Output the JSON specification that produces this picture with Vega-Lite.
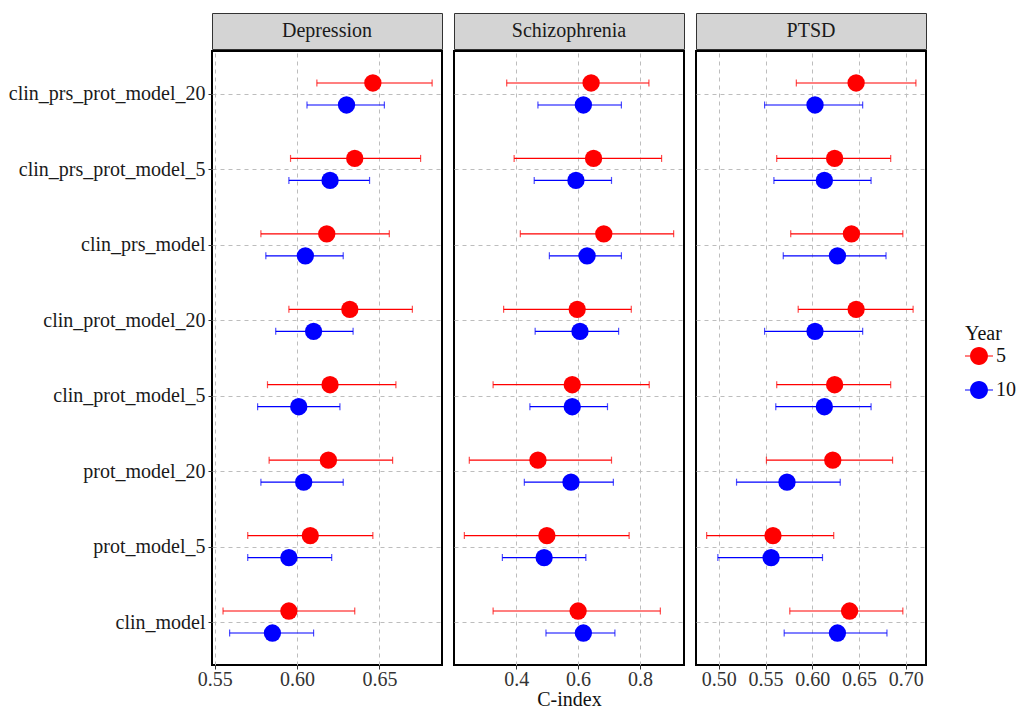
{
  "$schema": "https://vega.github.io/schema/vega-lite/v6.json",
  "padding": {"left": 7, "top": 12, "right": 5, "bottom": 0},
  "background": "white",
  "config": {
    "font": "Liberation Serif",
    "view": {"stroke": null},
    "axis": {"gridColor": "#BDBDBD", "gridDash": [4, 4], "gridWidth": 1, "domain": false, "tickColor": "#333333", "tickSize": 4, "tickWidth": 1, "labelFont": "Liberation Serif", "labelFontSize": 20, "labelColor": "#333333", "labelPadding": 3, "labelLimit": 0, "titleFont": "Liberation Serif", "titleFontSize": 20, "titleFontWeight": "normal", "titleColor": "#111111"},
    "legend": {"orient": "none", "legendX": 753, "legendY": 311, "titleFont": "Liberation Serif", "titleFontSize": 20, "titleFontWeight": "normal", "titleColor": "#111111", "titlePadding": -2, "labelFont": "Liberation Serif", "labelFontSize": 20, "labelColor": "#111111", "symbolType": "M-1,-0.03L1,-0.03L1,0.03L-1,0.03Z M-0.64,0A0.64,0.64 0 1,1 0.64,0A0.64,0.64 0 1,1 -0.64,0Z", "symbolSize": 784, "symbolStrokeWidth": 0, "symbolOpacity": 1, "rowPadding": 10, "labelOffset": 3}
  },
  "datasets": {
    "panels": [{"Disease": "Depression"}, {"Disease": "Schizophrenia"}, {"Disease": "PTSD"}],
    "d": [
      {"Disease": "Depression", "Model": "clin_prs_prot_model_20", "Year": "5", "Cindex": 0.646, "Lower": 0.612, "Upper": 0.682},
      {"Disease": "Depression", "Model": "clin_prs_prot_model_20", "Year": "10", "Cindex": 0.630, "Lower": 0.606, "Upper": 0.653},
      {"Disease": "Depression", "Model": "clin_prs_prot_model_5", "Year": "5", "Cindex": 0.635, "Lower": 0.596, "Upper": 0.675},
      {"Disease": "Depression", "Model": "clin_prs_prot_model_5", "Year": "10", "Cindex": 0.620, "Lower": 0.595, "Upper": 0.644},
      {"Disease": "Depression", "Model": "clin_prs_model", "Year": "5", "Cindex": 0.618, "Lower": 0.578, "Upper": 0.656},
      {"Disease": "Depression", "Model": "clin_prs_model", "Year": "10", "Cindex": 0.605, "Lower": 0.581, "Upper": 0.628},
      {"Disease": "Depression", "Model": "clin_prot_model_20", "Year": "5", "Cindex": 0.632, "Lower": 0.595, "Upper": 0.670},
      {"Disease": "Depression", "Model": "clin_prot_model_20", "Year": "10", "Cindex": 0.610, "Lower": 0.587, "Upper": 0.634},
      {"Disease": "Depression", "Model": "clin_prot_model_5", "Year": "5", "Cindex": 0.620, "Lower": 0.582, "Upper": 0.660},
      {"Disease": "Depression", "Model": "clin_prot_model_5", "Year": "10", "Cindex": 0.601, "Lower": 0.576, "Upper": 0.626},
      {"Disease": "Depression", "Model": "prot_model_20", "Year": "5", "Cindex": 0.619, "Lower": 0.583, "Upper": 0.658},
      {"Disease": "Depression", "Model": "prot_model_20", "Year": "10", "Cindex": 0.604, "Lower": 0.578, "Upper": 0.628},
      {"Disease": "Depression", "Model": "prot_model_5", "Year": "5", "Cindex": 0.608, "Lower": 0.570, "Upper": 0.646},
      {"Disease": "Depression", "Model": "prot_model_5", "Year": "10", "Cindex": 0.595, "Lower": 0.570, "Upper": 0.621},
      {"Disease": "Depression", "Model": "clin_model", "Year": "5", "Cindex": 0.595, "Lower": 0.555, "Upper": 0.635},
      {"Disease": "Depression", "Model": "clin_model", "Year": "10", "Cindex": 0.585, "Lower": 0.559, "Upper": 0.610},
      {"Disease": "Schizophrenia", "Model": "clin_prs_prot_model_20", "Year": "5", "Cindex": 0.642, "Lower": 0.369, "Upper": 0.829},
      {"Disease": "Schizophrenia", "Model": "clin_prs_prot_model_20", "Year": "10", "Cindex": 0.617, "Lower": 0.470, "Upper": 0.740},
      {"Disease": "Schizophrenia", "Model": "clin_prs_prot_model_5", "Year": "5", "Cindex": 0.650, "Lower": 0.393, "Upper": 0.870},
      {"Disease": "Schizophrenia", "Model": "clin_prs_prot_model_5", "Year": "10", "Cindex": 0.593, "Lower": 0.458, "Upper": 0.708},
      {"Disease": "Schizophrenia", "Model": "clin_prs_model", "Year": "5", "Cindex": 0.683, "Lower": 0.413, "Upper": 0.909},
      {"Disease": "Schizophrenia", "Model": "clin_prs_model", "Year": "10", "Cindex": 0.629, "Lower": 0.507, "Upper": 0.740},
      {"Disease": "Schizophrenia", "Model": "clin_prot_model_20", "Year": "5", "Cindex": 0.597, "Lower": 0.359, "Upper": 0.772},
      {"Disease": "Schizophrenia", "Model": "clin_prot_model_20", "Year": "10", "Cindex": 0.606, "Lower": 0.461, "Upper": 0.731},
      {"Disease": "Schizophrenia", "Model": "clin_prot_model_5", "Year": "5", "Cindex": 0.581, "Lower": 0.325, "Upper": 0.830},
      {"Disease": "Schizophrenia", "Model": "clin_prot_model_5", "Year": "10", "Cindex": 0.581, "Lower": 0.444, "Upper": 0.695},
      {"Disease": "Schizophrenia", "Model": "prot_model_20", "Year": "5", "Cindex": 0.470, "Lower": 0.248, "Upper": 0.708},
      {"Disease": "Schizophrenia", "Model": "prot_model_20", "Year": "10", "Cindex": 0.577, "Lower": 0.426, "Upper": 0.714},
      {"Disease": "Schizophrenia", "Model": "prot_model_5", "Year": "5", "Cindex": 0.499, "Lower": 0.232, "Upper": 0.765},
      {"Disease": "Schizophrenia", "Model": "prot_model_5", "Year": "10", "Cindex": 0.490, "Lower": 0.355, "Upper": 0.625},
      {"Disease": "Schizophrenia", "Model": "clin_model", "Year": "5", "Cindex": 0.600, "Lower": 0.325, "Upper": 0.866},
      {"Disease": "Schizophrenia", "Model": "clin_model", "Year": "10", "Cindex": 0.617, "Lower": 0.496, "Upper": 0.719},
      {"Disease": "PTSD", "Model": "clin_prs_prot_model_20", "Year": "5", "Cindex": 0.647, "Lower": 0.583, "Upper": 0.711},
      {"Disease": "PTSD", "Model": "clin_prs_prot_model_20", "Year": "10", "Cindex": 0.603, "Lower": 0.549, "Upper": 0.654},
      {"Disease": "PTSD", "Model": "clin_prs_prot_model_5", "Year": "5", "Cindex": 0.624, "Lower": 0.562, "Upper": 0.684},
      {"Disease": "PTSD", "Model": "clin_prs_prot_model_5", "Year": "10", "Cindex": 0.613, "Lower": 0.559, "Upper": 0.663},
      {"Disease": "PTSD", "Model": "clin_prs_model", "Year": "5", "Cindex": 0.642, "Lower": 0.577, "Upper": 0.697},
      {"Disease": "PTSD", "Model": "clin_prs_model", "Year": "10", "Cindex": 0.627, "Lower": 0.569, "Upper": 0.679},
      {"Disease": "PTSD", "Model": "clin_prot_model_20", "Year": "5", "Cindex": 0.647, "Lower": 0.585, "Upper": 0.708},
      {"Disease": "PTSD", "Model": "clin_prot_model_20", "Year": "10", "Cindex": 0.603, "Lower": 0.549, "Upper": 0.654},
      {"Disease": "PTSD", "Model": "clin_prot_model_5", "Year": "5", "Cindex": 0.624, "Lower": 0.562, "Upper": 0.684},
      {"Disease": "PTSD", "Model": "clin_prot_model_5", "Year": "10", "Cindex": 0.613, "Lower": 0.561, "Upper": 0.663},
      {"Disease": "PTSD", "Model": "prot_model_20", "Year": "5", "Cindex": 0.622, "Lower": 0.551, "Upper": 0.686},
      {"Disease": "PTSD", "Model": "prot_model_20", "Year": "10", "Cindex": 0.573, "Lower": 0.519, "Upper": 0.630},
      {"Disease": "PTSD", "Model": "prot_model_5", "Year": "5", "Cindex": 0.558, "Lower": 0.487, "Upper": 0.623},
      {"Disease": "PTSD", "Model": "prot_model_5", "Year": "10", "Cindex": 0.556, "Lower": 0.499, "Upper": 0.611},
      {"Disease": "PTSD", "Model": "clin_model", "Year": "5", "Cindex": 0.640, "Lower": 0.576, "Upper": 0.697},
      {"Disease": "PTSD", "Model": "clin_model", "Year": "10", "Cindex": 0.627, "Lower": 0.570, "Upper": 0.680}
    ]
  },
  "spacing": 10,
  "hconcat": [
    {
      "spacing": 0,
      "vconcat": [
        {
          "data": {"name": "panels"},
          "transform": [{"filter": "datum.Disease == 'Depression'"}],
          "width": 230, "height": 36,
          "view": {"fill": "#D4D4D4", "stroke": "#333333", "strokeWidth": 1},
          "mark": {"type": "text", "fontSize": 20, "color": "#1a1a1a", "font": "Liberation Serif"},
          "encoding": {"text": {"field": "Disease"}}
        },
        {
          "data": {"name": "d"},
          "transform": [{"filter": "datum.Disease == 'Depression'"}],
          "width": 230, "height": 614,
          "view": {"stroke": "black", "strokeWidth": 2},
          "encoding": {
            "y": {"field": "Model", "type": "nominal", "sort": ["clin_prs_prot_model_20", "clin_prs_prot_model_5", "clin_prs_model", "clin_prot_model_20", "clin_prot_model_5", "prot_model_20", "prot_model_5", "clin_model"], "scale": {"type": "point", "padding": 0.57}, "axis": {"title": null, "labelColor": "#1a1a1a", "grid": true}},
            "yOffset": {"field": "Year", "type": "nominal", "scale": {"domain": ["5", "10"], "range": [-22, 22]}},
            "color": {"field": "Year", "type": "nominal", "title": "Year", "scale": {"domain": ["5", "10"], "range": ["#FF0000", "#0000FF"]}}
          },
          "layer": [
            {"mark": {"type": "rule", "strokeWidth": 1.2}, "encoding": {"x": {"field": "Lower", "type": "quantitative", "scale": {"domain": [0.5483, 0.6880], "nice": false, "zero": false}, "axis": {"values": [0.55, 0.6, 0.65], "format": ".2f", "title": null, "labelPadding": 0}}, "x2": {"field": "Upper"}}},
            {"mark": {"type": "tick", "thickness": 1.2, "size": 7}, "encoding": {"x": {"field": "Lower", "type": "quantitative"}}},
            {"mark": {"type": "tick", "thickness": 1.2, "size": 7}, "encoding": {"x": {"field": "Upper", "type": "quantitative"}}},
            {"mark": {"type": "point", "filled": true, "size": 300, "opacity": 1}, "encoding": {"x": {"field": "Cindex", "type": "quantitative"}}}
          ]
        }
      ]
    },
    {
      "spacing": 0,
      "vconcat": [
        {
          "data": {"name": "panels"},
          "transform": [{"filter": "datum.Disease == 'Schizophrenia'"}],
          "width": 230, "height": 36,
          "view": {"fill": "#D4D4D4", "stroke": "#333333", "strokeWidth": 1},
          "mark": {"type": "text", "fontSize": 20, "color": "#1a1a1a", "font": "Liberation Serif"},
          "encoding": {"text": {"field": "Disease"}}
        },
        {
          "data": {"name": "d"},
          "transform": [{"filter": "datum.Disease == 'Schizophrenia'"}],
          "width": 230, "height": 614,
          "view": {"stroke": "black", "strokeWidth": 2},
          "encoding": {
            "y": {"field": "Model", "type": "nominal", "sort": ["clin_prs_prot_model_20", "clin_prs_prot_model_5", "clin_prs_model", "clin_prot_model_20", "clin_prot_model_5", "prot_model_20", "prot_model_5", "clin_model"], "scale": {"type": "point", "padding": 0.57}, "axis": {"title": null, "labels": false, "ticks": false, "grid": true}},
            "yOffset": {"field": "Year", "type": "nominal", "scale": {"domain": ["5", "10"], "range": [-22, 22]}},
            "color": {"field": "Year", "type": "nominal", "title": "Year", "scale": {"domain": ["5", "10"], "range": ["#FF0000", "#0000FF"]}}
          },
          "layer": [
            {"mark": {"type": "rule", "strokeWidth": 1.2}, "encoding": {"x": {"field": "Lower", "type": "quantitative", "scale": {"domain": [0.1985, 0.9425], "nice": false, "zero": false}, "axis": {"values": [0.4, 0.6, 0.8], "format": ".1f", "title": "C-index", "titlePadding": 0, "labelPadding": 0}}, "x2": {"field": "Upper"}}},
            {"mark": {"type": "tick", "thickness": 1.2, "size": 7}, "encoding": {"x": {"field": "Lower", "type": "quantitative"}}},
            {"mark": {"type": "tick", "thickness": 1.2, "size": 7}, "encoding": {"x": {"field": "Upper", "type": "quantitative"}}},
            {"mark": {"type": "point", "filled": true, "size": 300, "opacity": 1}, "encoding": {"x": {"field": "Cindex", "type": "quantitative"}}}
          ]
        }
      ]
    },
    {
      "spacing": 0,
      "vconcat": [
        {
          "data": {"name": "panels"},
          "transform": [{"filter": "datum.Disease == 'PTSD'"}],
          "width": 230, "height": 36,
          "view": {"fill": "#D4D4D4", "stroke": "#333333", "strokeWidth": 1},
          "mark": {"type": "text", "fontSize": 20, "color": "#1a1a1a", "font": "Liberation Serif"},
          "encoding": {"text": {"field": "Disease"}}
        },
        {
          "data": {"name": "d"},
          "transform": [{"filter": "datum.Disease == 'PTSD'"}],
          "width": 230, "height": 614,
          "view": {"stroke": "black", "strokeWidth": 2},
          "encoding": {
            "y": {"field": "Model", "type": "nominal", "sort": ["clin_prs_prot_model_20", "clin_prs_prot_model_5", "clin_prs_model", "clin_prot_model_20", "clin_prot_model_5", "prot_model_20", "prot_model_5", "clin_model"], "scale": {"type": "point", "padding": 0.57}, "axis": {"title": null, "labels": false, "ticks": false, "grid": true}},
            "yOffset": {"field": "Year", "type": "nominal", "scale": {"domain": ["5", "10"], "range": [-22, 22]}},
            "color": {"field": "Year", "type": "nominal", "title": "Year", "scale": {"domain": ["5", "10"], "range": ["#FF0000", "#0000FF"]}}
          },
          "layer": [
            {"mark": {"type": "rule", "strokeWidth": 1.2}, "encoding": {"x": {"field": "Lower", "type": "quantitative", "scale": {"domain": [0.4756, 0.7218], "nice": false, "zero": false}, "axis": {"values": [0.5, 0.55, 0.6, 0.65, 0.7], "format": ".2f", "title": null, "labelPadding": 0}}, "x2": {"field": "Upper"}}},
            {"mark": {"type": "tick", "thickness": 1.2, "size": 7}, "encoding": {"x": {"field": "Lower", "type": "quantitative"}}},
            {"mark": {"type": "tick", "thickness": 1.2, "size": 7}, "encoding": {"x": {"field": "Upper", "type": "quantitative"}}},
            {"mark": {"type": "point", "filled": true, "size": 300, "opacity": 1}, "encoding": {"x": {"field": "Cindex", "type": "quantitative"}}}
          ]
        }
      ]
    }
  ],
  "resolve": {"scale": {"x": "independent"}}
}
